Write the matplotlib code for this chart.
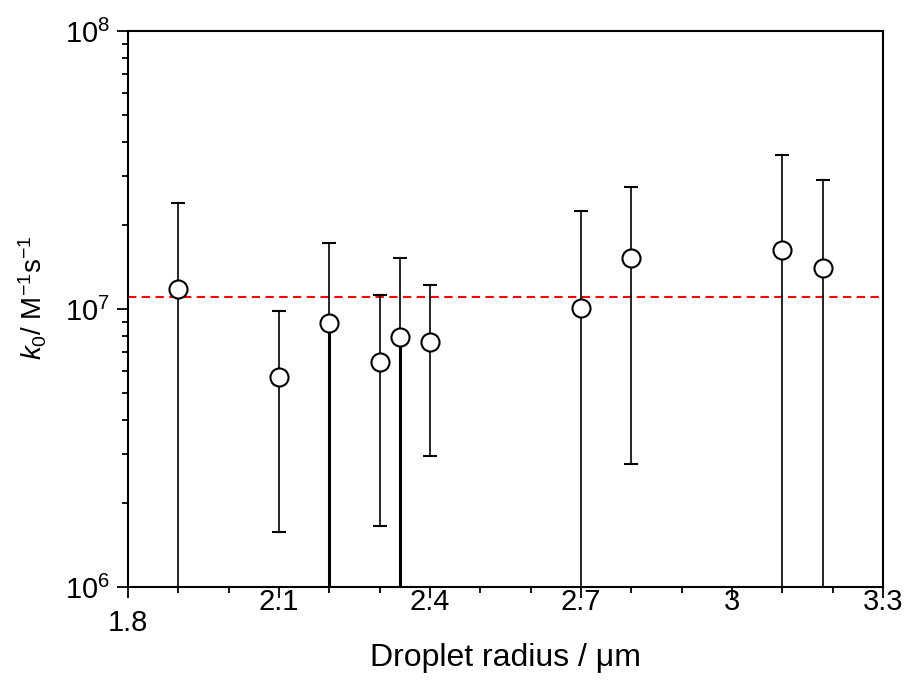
import numpy as np
import matplotlib
matplotlib.use("Agg")
import matplotlib.pyplot as plt
from matplotlib.ticker import FixedLocator, LogLocator, NullFormatter
from matplotlib.transforms import ScaledTranslation

plt.rcParams["font.family"] = ["Liberation Sans", "DejaVu Sans"]
plt.rcParams["mathtext.fontset"] = "custom"
plt.rcParams["mathtext.rm"] = "Liberation Sans"
plt.rcParams["mathtext.it"] = "Liberation Sans:italic"

# ── Data ──────────────────────────────────────────────────
radius  = [1.90, 2.10, 2.20, 2.30, 2.34, 2.40, 2.70, 2.80, 3.10, 3.18]
k0      = [1.18e7, 5.7e6, 8.9e6, 6.45e6, 7.95e6, 7.6e6, 1.01e7, 1.52e7, 1.63e7, 1.40e7]
k0_high = [2.4e7, 9.8e6, 1.73e7, 1.12e7, 1.53e7, 1.22e7, 2.26e7, 2.75e7, 3.57e7, 2.90e7]
# lower bounds below 1e6 run off the bottom of the axis
k0_low  = [1e5, 1.58e6, 1e5, 1.66e6, 1e5, 2.95e6, 1e5, 2.77e6, 1e5, 1e5]
# these two lower whiskers are drawn heavier in the original
heavy_lower = [False, False, True, False, True, False, False, False, False, False]
k0_mean = 1.10e7

x_ticks = [1.8, 2.1, 2.4, 2.7, 3.0, 3.3]
x_tick_labels = ["1.8", "2.1", "2.4", "2.7", "3", "3.3"]

# ── Figure ────────────────────────────────────────────────
fig = plt.figure(figsize=(9.09, 6.8), dpi=100, facecolor="white")
ax = fig.add_axes([0.1408, 0.1368, 0.8306, 0.8176])

k0_arr = np.array(k0)
yerr = [k0_arr - np.array(k0_low), np.array(k0_high) - k0_arr]

ax.axhline(k0_mean, color="#ff0000", lw=1.5, ls=(0, (4, 2.6)), zorder=1)

ax.errorbar(radius, k0, yerr=yerr, fmt="o", color="black",
            ecolor="black", elinewidth=1.2, capsize=4.7, capthick=1.2,
            ms=13, mfc="white", mec="black", mew=1.5, zorder=3)

heavy = np.array(heavy_lower)
ax.vlines(np.array(radius)[heavy], np.array(k0_low)[heavy], k0_arr[heavy],
          color="black", lw=2.2, zorder=2)

ax.set_yscale("log")
ax.set_xlim(1.8, 3.3)
ax.set_ylim(1e6, 1e8)

ax.xaxis.set_major_locator(FixedLocator(x_ticks))
ax.set_xticklabels(x_tick_labels)
ax.xaxis.set_minor_locator(FixedLocator(np.arange(1.8, 3.31, 0.1)))
ax.yaxis.set_major_locator(LogLocator(base=10, numticks=5))
ax.yaxis.set_minor_locator(LogLocator(base=10, subs=np.arange(2, 10), numticks=20))
ax.yaxis.set_minor_formatter(NullFormatter())

for side in ["top", "right", "bottom", "left"]:
    ax.spines[side].set_linewidth(1.5)

ax.tick_params(axis="both", which="major", direction="out", length=8,
               width=1.3, labelsize=21)
ax.tick_params(axis="both", which="minor", direction="out", length=4.5,
               width=1.3)
ax.tick_params(axis="x", which="major", pad=-7)
ax.tick_params(axis="y", which="major", pad=5)

# the 1.8 label sits lower than the others in the original
fig.canvas.draw()
lbl = ax.get_xticklabels()[0]
lbl.set_transform(lbl.get_transform() + ScaledTranslation(0, -15 / 72, fig.dpi_scale_trans))

ax.set_xlabel("Droplet radius / μm", fontsize=23)
ax.xaxis.set_label_coords(0.5, -0.100)
ax.set_ylabel(r"$k_0$/ M$^{-1}$s$^{-1}$", fontsize=20)
ax.yaxis.set_label_coords(-0.104, 0.52)

fig.savefig("out.png", dpi=100, facecolor="white")
